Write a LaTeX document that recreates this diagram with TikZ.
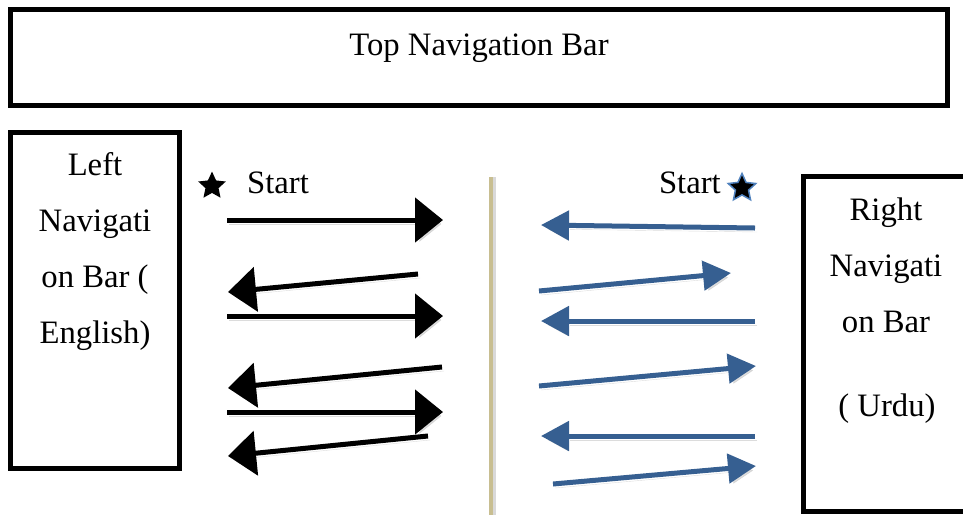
\documentclass[tikz,border=0pt]{standalone}
\usepackage{fontspec}
\setmainfont{Liberation Serif}
\usetikzlibrary{arrows.meta,shapes.geometric}
\definecolor{arrblue}{RGB}{54,95,145}
\definecolor{starblue}{RGB}{79,129,189}
\definecolor{tan}{RGB}{200,190,145}
\tikzset{
  boxline/.style={draw=black, line width=5pt},
  lbl/.style={font=\fontsize{32.7}{39}\selectfont, inner sep=0pt, anchor=base},
  shad/.style={preaction={draw=black!30, opacity=.45, transform canvas={shift={(2pt,-4pt)}}}},
  blackarr/.style={draw=black, line width=5pt, -{Triangle[length=28pt,width=44pt]}, shad},
  bluearr/.style={draw=arrblue, line width=5pt, -{Triangle[length=28pt,width=29pt]}, shad},
  starshape/.style={star, star points=5, star point ratio=2.1, inner sep=0pt},
}
\begin{document}
\begin{tikzpicture}[x=1pt,y=-1pt]
\useasboundingbox (0,0) rectangle (963,515);
% boxes
\draw[boxline] (10.5,9.5) rectangle (947,105.5);
\draw[boxline] (10.5,132.5) rectangle (179.5,468.5);
\draw[boxline] (803.5,176.5) rectangle (975,511.5);
% texts
\node[lbl] (top) at (479,55) {Top Navigation Bar};
\node[lbl] (l1) at (95,175) {Left};
\node[lbl] (l2) at (95,231) {Navigati};
\node[lbl] (l3) at (95,287) {on Bar (};
\node[lbl] (l4) at (95,343) {English)};
\node[lbl] (r1) at (886,220) {Right};
\node[lbl] (r2) at (886,276) {Navigati};
\node[lbl] (r3) at (886,332) {on Bar};
\node[lbl] (r4) at (887,416) {( Urdu)};
\node[lbl, anchor=base west] (sl) at (247,193) {Start};
\node[lbl, anchor=base east] (sr) at (721,193) {Start};
% stars
\node[starshape, fill=black, minimum size=29pt] (stl) at (212,186) {};
\node[starshape, fill=black, draw=starblue, line width=1.5pt, minimum size=29pt] (str) at (742,188) {};
% divider
\draw[draw=black!15, line width=3pt] (494,177) -- (494,515);
\draw[draw=tan, line width=4pt] (491,177) -- (491,515);
% black arrows
\coordinate (a1s) at (227,220); \coordinate (a1e) at (443,220);
\coordinate (a2s) at (418,274); \coordinate (a2e) at (228,292);
\coordinate (a3s) at (227,316); \coordinate (a3e) at (443,316);
\coordinate (a4s) at (442,367); \coordinate (a4e) at (228,388);
\coordinate (a5s) at (227,412); \coordinate (a5e) at (443,412);
\coordinate (a6s) at (428,436); \coordinate (a6e) at (228,456);
\draw[blackarr] (a1s) -- (a1e);
\draw[blackarr] (a2s) -- (a2e);
\draw[blackarr] (a3s) -- (a3e);
\draw[blackarr] (a4s) -- (a4e);
\draw[blackarr] (a5s) -- (a5e);
\draw[blackarr] (a6s) -- (a6e);
% blue arrows
\coordinate (b1s) at (755,228); \coordinate (b1e) at (541,225);
\coordinate (b2s) at (539,291); \coordinate (b2e) at (731,273);
\coordinate (b3s) at (755,321); \coordinate (b3e) at (541,321);
\coordinate (b4s) at (539,386); \coordinate (b4e) at (756,366);
\coordinate (b5s) at (755,436); \coordinate (b5e) at (541,436);
\coordinate (b6s) at (553,484); \coordinate (b6e) at (756,466);
\draw[bluearr] (b1s) -- (b1e);
\draw[bluearr] (b2s) -- (b2e);
\draw[bluearr] (b3s) -- (b3e);
\draw[bluearr] (b4s) -- (b4e);
\draw[bluearr] (b5s) -- (b5e);
\draw[bluearr] (b6s) -- (b6e);
\end{tikzpicture}
\end{document}
